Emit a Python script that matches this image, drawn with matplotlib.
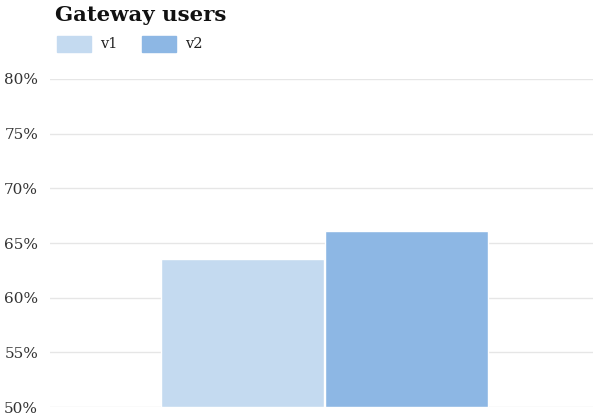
import matplotlib
matplotlib.use("Agg")
import matplotlib.pyplot as plt
from matplotlib.patches import Rectangle

plt.rcParams['font.family'] = ['DejaVu Serif']

title = "Gateway users"
series = ["v1", "v2"]
values = [63.5, 66.1]
colors = ["#c4daf0", "#8db7e4"]
yticks = [50, 55, 60, 65, 70, 75, 80]
ytick_labels = ["50%", "55%", "60%", "65%", "70%", "75%", "80%"]

fig = plt.figure(figsize=(5.93, 4.18), dpi=100)
ax = fig.add_axes([50 / 593, 11 / 418, 543 / 593, 328 / 418])

width = 0.301
offsets = [-0.1455, 0.1565]
for off, v, c in zip(offsets, values, colors):
    ax.bar(off, v - 50, bottom=50, width=width, color=c, edgecolor="white",
           linewidth=1, zorder=3)

ax.set_xlim(-0.5, 0.5)
ax.set_ylim(50, 80)
ax.set_yticks(yticks)
ax.set_yticklabels(ytick_labels, fontsize=11, color="#333333")
ax.set_xticks([])
ax.tick_params(axis="y", length=0, pad=8.5)
ax.grid(axis="y", color="#e6e6e6", linewidth=1, zorder=0)
for s in ax.spines.values():
    s.set_visible(False)

fig.text(55 / 593, 1 - 15 / 418, title, fontsize=15.3, fontweight="bold",
         va="center", ha="left", color="#111111")

# legend
leg_y = 1 - 44 / 418
for i, (name, c) in enumerate(zip(series, colors)):
    x0 = (57 + i * 85) / 593
    fig.patches.append(Rectangle((x0, leg_y - 8 / 418), 34 / 593, 16 / 418,
                                 transform=fig.transFigure, color=c))
    fig.text(x0 + 43 / 593, leg_y, name, fontsize=10.5, va="center",
             ha="left", color="#222222")

fig.savefig("out.png", dpi=100)
